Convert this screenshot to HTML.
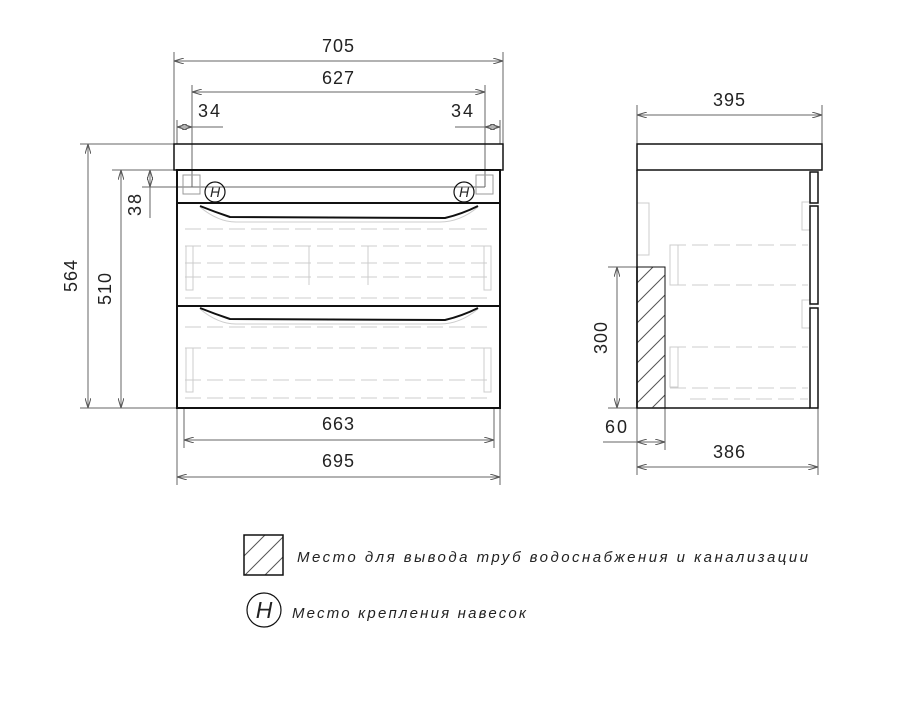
<!DOCTYPE html><html><head><meta charset="utf-8"><style>body{margin:0;background:#fff}svg{display:block}text{font-family:"Liberation Sans",sans-serif;fill:#222}</style></head><body>
<svg width="905" height="710" viewBox="0 0 905 710">
<defs>
<marker id="a" viewBox="0 0 10 6" refX="10" refY="3" markerWidth="10" markerHeight="6" orient="auto-start-reverse" markerUnits="userSpaceOnUse"><path d="M0,0L10,3L0,6" fill="none" stroke="#555" stroke-width="1"/></marker>
<pattern id="h" width="20" height="20" patternUnits="userSpaceOnUse"><path d="M0,20L20,0M-5,5L5,-5M15,25L25,15" stroke="#555" stroke-width="1" fill="none"/></pattern>
</defs>
<g stroke="#666" stroke-width="1" fill="none">
<line x1="174" y1="52" x2="174" y2="144"/><line x1="503" y1="52" x2="503" y2="144"/>
<line x1="192" y1="85" x2="192" y2="187"/><line x1="485" y1="85" x2="485" y2="187"/>
<line x1="177" y1="120" x2="177" y2="144"/><line x1="500" y1="120" x2="500" y2="144"/>
<line x1="80" y1="144" x2="174" y2="144"/><line x1="80" y1="408" x2="177" y2="408"/>
<line x1="112" y1="170" x2="177" y2="170"/><line x1="142" y1="187" x2="485" y2="187"/>
<line x1="177" y1="408" x2="177" y2="485"/><line x1="500" y1="408" x2="500" y2="485"/>
<line x1="184" y1="408" x2="184" y2="448"/><line x1="494" y1="408" x2="494" y2="448"/>
<line x1="174" y1="61" x2="503" y2="61" marker-start="url(#a)" marker-end="url(#a)"/>
<line x1="192" y1="92" x2="485" y2="92" marker-start="url(#a)" marker-end="url(#a)"/>
<line x1="177" y1="127" x2="192" y2="127" marker-start="url(#a)" marker-end="url(#a)"/><line x1="192" y1="127" x2="223" y2="127"/>
<line x1="485" y1="127" x2="500" y2="127" marker-start="url(#a)" marker-end="url(#a)"/><line x1="455" y1="127" x2="485" y2="127"/>
<line x1="88" y1="144" x2="88" y2="408" marker-start="url(#a)" marker-end="url(#a)"/>
<line x1="121" y1="170" x2="121" y2="408" marker-start="url(#a)" marker-end="url(#a)"/>
<line x1="150" y1="170" x2="150" y2="187" marker-start="url(#a)" marker-end="url(#a)"/><line x1="150" y1="187" x2="150" y2="218"/>
<line x1="184" y1="440" x2="494" y2="440" marker-start="url(#a)" marker-end="url(#a)"/>
<line x1="177" y1="477" x2="500" y2="477" marker-start="url(#a)" marker-end="url(#a)"/>
<line x1="637" y1="105" x2="637" y2="144"/><line x1="822" y1="105" x2="822" y2="144"/>
<line x1="637" y1="115" x2="822" y2="115" marker-start="url(#a)" marker-end="url(#a)"/>
<line x1="608" y1="267" x2="637" y2="267"/><line x1="608" y1="408" x2="637" y2="408"/>
<line x1="617" y1="267" x2="617" y2="408" marker-start="url(#a)" marker-end="url(#a)"/>
<line x1="637" y1="408" x2="637" y2="475"/><line x1="665" y1="408" x2="665" y2="450"/><line x1="818" y1="408" x2="818" y2="475"/>
<line x1="603" y1="442" x2="637" y2="442"/>
<line x1="637" y1="442" x2="665" y2="442" marker-start="url(#a)" marker-end="url(#a)"/>
<line x1="637" y1="467" x2="818" y2="467" marker-start="url(#a)" marker-end="url(#a)"/>
</g>
<g stroke="#ccc" stroke-width="1" fill="none" stroke-dasharray="16,6">
<line x1="185" y1="229" x2="492" y2="229"/><line x1="185" y1="246" x2="492" y2="246"/><line x1="185" y1="263" x2="492" y2="263"/><line x1="185" y1="277" x2="492" y2="277"/><line x1="185" y1="298" x2="492" y2="298"/>
<line x1="185" y1="327" x2="492" y2="327"/><line x1="185" y1="348" x2="492" y2="348"/><line x1="185" y1="380" x2="492" y2="380"/><line x1="185" y1="398" x2="492" y2="398"/>
<line x1="670" y1="245" x2="808" y2="245"/><line x1="670" y1="285" x2="808" y2="285"/><line x1="670" y1="347" x2="808" y2="347"/><line x1="670" y1="388" x2="808" y2="388"/><line x1="690" y1="399" x2="808" y2="399"/>
</g>
<g stroke="#ccc" stroke-width="1" fill="none">
<rect x="186" y="246" width="7" height="44"/><rect x="484" y="246" width="7" height="44"/>
<line x1="309" y1="246" x2="309" y2="285"/><line x1="368" y1="246" x2="368" y2="285"/>
<rect x="186" y="348" width="7" height="44"/><rect x="484" y="348" width="7" height="44"/>
<rect x="670" y="245" width="8" height="40"/><rect x="670" y="347" width="8" height="40"/>
<rect x="637" y="203" width="12" height="52"/><rect x="802" y="202" width="8" height="28"/><rect x="802" y="300" width="8" height="28"/>
<path d="M200 207 Q218 222 236 222 L440 222 Q460 222 478 207"/><path d="M200 309 Q218 324 236 324 L440 324 Q460 324 478 309"/>
</g>
<g stroke="#111" fill="none">
<rect x="174" y="144" width="329" height="26" stroke-width="1.5"/>
<rect x="177" y="170" width="323" height="238" stroke-width="2"/>
<line x1="177" y1="203" x2="500" y2="203" stroke-width="2"/><line x1="177" y1="306" x2="500" y2="306" stroke-width="2"/>
<path d="M200 206 Q215 212 230 217 L445 218 Q462 214 478 206" stroke-width="2"/>
<path d="M200 308 Q215 314 230 319 L445 320 Q462 316 478 308" stroke-width="2"/>
<rect x="183" y="175" width="17" height="19" stroke="#999"/><rect x="476" y="175" width="17" height="19" stroke="#999"/>
<circle cx="215" cy="192" r="10" stroke-width="1.2"/><circle cx="464" cy="192" r="10" stroke-width="1.2"/>
<rect x="637" y="144" width="185" height="26" stroke-width="1.5"/>
<polyline points="637,170 637,408 810,408" stroke-width="1.5"/>
<rect x="810" y="172" width="8" height="31" stroke-width="1.5"/><rect x="810" y="206" width="8" height="98" stroke-width="1.5"/><rect x="810" y="308" width="8" height="100" stroke-width="1.5"/>
<rect x="637" y="267" width="28" height="141" fill="url(#h)" stroke-width="1"/>
<line x1="637" y1="267" x2="637" y2="408" stroke-width="1.5"/>
<rect x="244" y="535" width="39" height="40" fill="url(#h)" stroke-width="1.5"/>
<circle cx="264" cy="610" r="17" stroke-width="1.2"/>
</g>
<g font-size="18" text-anchor="middle">
<text x="338" y="52" textLength="32">705</text>
<text x="338" y="84" textLength="32">627</text>
<text x="209" y="117" textLength="22">34</text>
<text x="462" y="117" textLength="22">34</text>
<text x="338" y="430" textLength="32">663</text>
<text x="338" y="467" textLength="32">695</text>
<text x="729" y="106" textLength="32">395</text>
<text x="616" y="433" textLength="22">60</text>
<text x="729" y="458" textLength="32">386</text>
<text transform="translate(77,276) rotate(-90)" textLength="32">564</text>
<text transform="translate(111,289) rotate(-90)" textLength="32">510</text>
<text transform="translate(141,205) rotate(-90)" textLength="22">38</text>
<text transform="translate(607,338) rotate(-90)" textLength="32">300</text>
</g>
<g font-style="italic" text-anchor="middle">
<text x="215" y="197" font-size="14">H</text>
<text x="464" y="197" font-size="14">H</text>
<text x="264" y="618" font-size="23">H</text>
</g>
<g font-style="italic">
<text x="297" y="562" font-size="15" textLength="511" lengthAdjust="spacing">Место для вывода труб водоснабжения и канализации</text>
<text x="292" y="618" font-size="15" textLength="234" lengthAdjust="spacing">Место крепления навесок</text>
</g>
</svg></body></html>
